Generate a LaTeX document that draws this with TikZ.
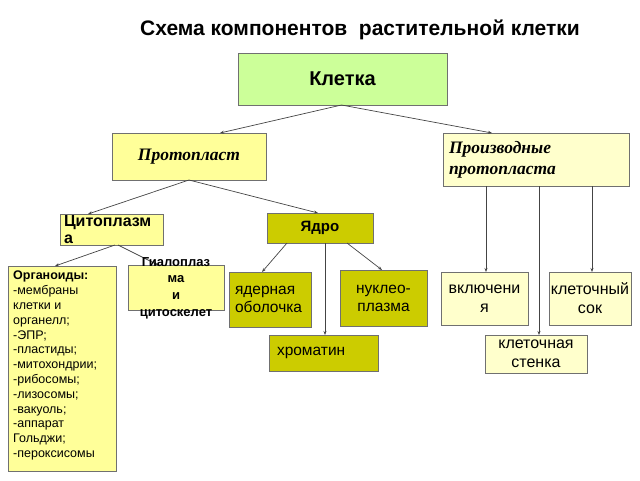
\documentclass[tikz,border=0pt]{standalone}
\usepackage{fontspec}
\setmainfont{Liberation Sans}
\newfontfamily\serifbi{Liberation Serif}
\usetikzlibrary{arrows.meta,calc}
\definecolor{green1}{HTML}{CCFF99}
\definecolor{yel}{HTML}{FFFF99}
\definecolor{pale}{HTML}{FFFFCC}
\definecolor{olive1}{HTML}{CCCC00}
\definecolor{edge}{HTML}{707070}
\definecolor{lnc}{HTML}{444444}
\begin{document}
\begin{tikzpicture}[x=1pt,y=-1pt,
  box/.style={draw=edge, line width=1pt, anchor=north west, inner sep=0pt, outer sep=0pt, align=center},
  con/.style={draw=lnc, line width=0.7pt, -{Stealth[length=4pt,width=3pt]}},
  tb/.style={font=\fontsize{15.5}{18}\selectfont},
  tv/.style={font=\fontsize{16}{19}\selectfont}]
\useasboundingbox (0,0) rectangle (640,480);

\node[anchor=base, font=\bfseries\fontsize{21}{24}\selectfont] (title) at (360,35) {Схема компонентов\ \ растительной клетки};

% boxes
\node[box, fill=green1, minimum width=209pt, minimum height=52pt, font=\bfseries\fontsize{20}{24}\selectfont] (kletka) at (238,53) {Клетка};
\node[box, fill=yel, minimum width=154pt, minimum height=47pt, font=\serifbi\bfseries\itshape\fontsize{17.5}{21}\selectfont] (proto) at (112,133) {Протопласт};
\node[box, fill=pale, minimum width=186pt, minimum height=53pt, text width=174pt, align=left, font=\serifbi\bfseries\itshape\fontsize{17.5}{21}\selectfont] (proiz) at (443,133) {Производные\\протопласта};

\node[box, fill=yel, minimum width=103pt, minimum height=31pt, text width=95pt, align=left, font=\bfseries\fontsize{16}{17}\selectfont] (cyto) at (60,214) {Цитоплазм\\а};

\node[box, fill=yel, minimum width=108pt, minimum height=205pt] (org) at (8,266) {};
\node[anchor=north west, align=left, inner sep=0pt, font=\fontsize{12.5}{14.8}\selectfont] (orgtxt) at (13,271) {\textbf{Органоиды:}\\-мембраны\\клетки и\\органелл;\\-ЭПР;\\-пластиды;\\-митохондрии;\\-рибосомы;\\-лизосомы;\\-вакуоль;\\-аппарат\\Гольджи;\\-пероксисомы};

\node[box, fill=yel, minimum width=96pt, minimum height=45pt] (gial) at (128,265) {};

\node[box, fill=olive1, minimum width=106pt, minimum height=30pt, font=\bfseries\fontsize{15}{18}\selectfont] (yadro) at (267,213) {Ядро};
\node[box, fill=olive1, minimum width=82pt, minimum height=55pt, text width=70pt, align=left, tb] (yader) at (229,272) {ядерная\\оболочка};
\node[box, fill=olive1, minimum width=87pt, minimum height=56pt, tb] (nukl) at (340,270) {нуклео-\\плазма};
\node[box, fill=olive1, minimum width=109pt, minimum height=36pt, text width=93pt, align=left, tb] (chrom) at (269,335) {хроматин};

\node[box, fill=pale, minimum width=87pt, minimum height=53pt, tv] (vkl) at (441,272) {включени\\я};
\node[box, fill=pale, minimum width=82pt, minimum height=53pt, tv] (sok) at (549,272) {клеточный\\сок};
\node[box, fill=pale, minimum width=102pt, minimum height=38pt, tv] (stenka) at (485,335) {клеточная\\стенка};

% connectors
\draw[con] ($(kletka.south)+(-1,0)$) -- ($(proto.north)+(31,0)$);
\draw[con] ($(kletka.south)+(-1,0)$) -- ($(proiz.north)+(-44,0)$);
\draw[con] (proto.south) -- ($(cyto.north)+(-23.5,0)$);
\draw[con] (proto.south) -- ($(yadro.north)+(-2,0)$);
\draw[con] ($(cyto.south)+(3.5,0)$) -- ($(org.north)+(-7,0)$);
\draw[con] ($(cyto.south)+(6.5,0)$) -- ($(gial.north)+(-18,0)$);
\draw[con] ($(yadro.south)+(-33,0)$) -- ($(yader.north)+(-8,0)$);
\draw[con] ($(yadro.south)+(5,0)$) -- ($(chrom.north)+(1.5,0)$);
\draw[con] ($(yadro.south)+(27,0)$) -- ($(nukl.north)+(-1.5,0)$);
\draw[con] ($(proiz.south)+(-50,0)$) -- ($(vkl.north)+(1.5,0)$);
\draw[con] ($(proiz.south)+(3,0)$) -- ($(stenka.north)+(3,0)$);
\draw[con] ($(proiz.south)+(56,0)$) -- ($(sok.north)+(2,0)$);

\node[align=center, inner sep=0pt, font=\bfseries\fontsize{13}{16.7}\selectfont] (gialtxt) at (176,288) {Гиалоплаз\\ма\\и\\цитоскелет};
\end{tikzpicture}
\end{document}
